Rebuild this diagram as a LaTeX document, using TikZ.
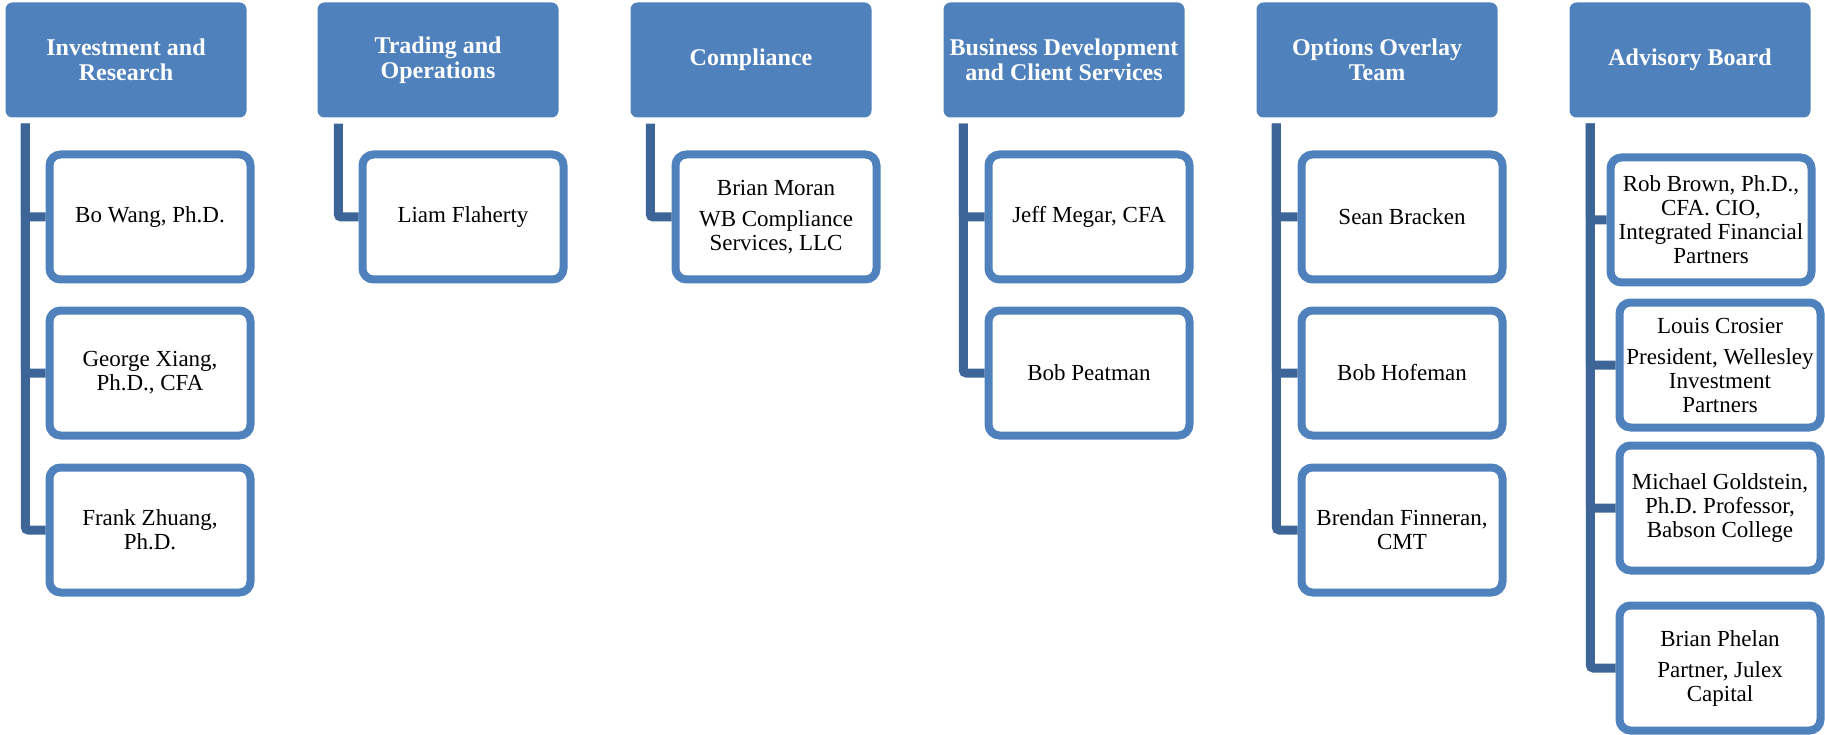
\documentclass[tikz,border=0pt]{standalone}
\usepackage{fontspec}
\setmainfont{Liberation Serif}
\usetikzlibrary{positioning}

\definecolor{boxblue}{RGB}{79,129,189}
\definecolor{linkblue}{RGB}{61,101,151}

\begin{document}
\begin{tikzpicture}[x=1pt,y=-1pt,
	head/.style={fill=boxblue,rounded corners=7pt,minimum width=241pt,minimum height=115pt,
		inner sep=0pt,align=center,text=white,font=\fontsize{24}{25}\selectfont\bfseries},
	person/.style={draw=boxblue,fill=white,line width=8pt,rounded corners=11pt,
		minimum width=201pt,minimum height=125pt,inner sep=0pt,align=center,
		font=\fontsize{23}{24}\selectfont},
	trunk/.style={draw=linkblue,line width=9pt,rounded corners=3pt}]

\useasboundingbox (0,0) rectangle (1825,735);

\node[head] (ir) at (126,60) {Investment and\\Research};
\node[head] (to) at (438,60) {Trading and\\Operations};
\node[head] (co) at (751,60) {Compliance};
\node[head] (bd) at (1064,60) {Business Development\\and Client Services};
\node[head] (oo) at (1377,60) {Options Overlay\\Team};
\node[head] (ab) at (1690,60) {Advisory Board};

\node[person] (wang) at (150,217) {Bo Wang, Ph.D.};
\node[person] (xiang) at (150,373) {George Xiang,\\Ph.D., CFA};
\node[person] (zhuang) at (150,530) {Frank Zhuang,\\Ph.D.};

\node[person] (flaherty) at (463,217) {Liam Flaherty};

\node[person] (moran) at (776,217) {Brian Moran\\[7pt]WB Compliance\\Services, LLC};

\node[person] (megar) at (1089,217) {Jeff Megar, CFA};
\node[person] (peatman) at (1089,373) {Bob Peatman};

\node[person] (bracken) at (1402,217) {Sean Bracken};
\node[person] (hofeman) at (1402,373) {Bob Hofeman};
\node[person] (finneran) at (1402,530) {Brendan Finneran,\\CMT};

\node[person] (brown) at (1711,220) {Rob Brown, Ph.D.,\\CFA. CIO,\\Integrated Financial\\Partners};
\node[person] (crosier) at (1720,365) {Louis Crosier\\[7pt]President, Wellesley\\Investment\\Partners};
\node[person] (goldstein) at (1720,508) {Michael Goldstein,\\Ph.D. Professor,\\Babson College};
\node[person] (phelan) at (1720,668) {Brian Phelan\\[7pt]Partner, Julex\\Capital};

\draw[trunk] ([shift={(20,6)}]ir.south west) |- (wang.west);
\draw[trunk] ([shift={(20,6)}]ir.south west) |- (xiang.west);
\draw[trunk] ([shift={(20,6)}]ir.south west) |- (zhuang.west);

\draw[trunk] ([shift={(21,6)}]to.south west) |- (flaherty.west);

\draw[trunk] ([shift={(20,6)}]co.south west) |- (moran.west);

\draw[trunk] ([shift={(20,6)}]bd.south west) |- (megar.west);
\draw[trunk] ([shift={(20,6)}]bd.south west) |- (peatman.west);

\draw[trunk] ([shift={(20,6)}]oo.south west) |- (bracken.west);
\draw[trunk] ([shift={(20,6)}]oo.south west) |- (hofeman.west);
\draw[trunk] ([shift={(20,6)}]oo.south west) |- (finneran.west);

\draw[trunk] ([shift={(21,6)}]ab.south west) |- (brown.west);
\draw[trunk] ([shift={(21,6)}]ab.south west) |- (crosier.west);
\draw[trunk] ([shift={(21,6)}]ab.south west) |- (goldstein.west);
\draw[trunk] ([shift={(21,6)}]ab.south west) |- (phelan.west);

\end{tikzpicture}
\end{document}
